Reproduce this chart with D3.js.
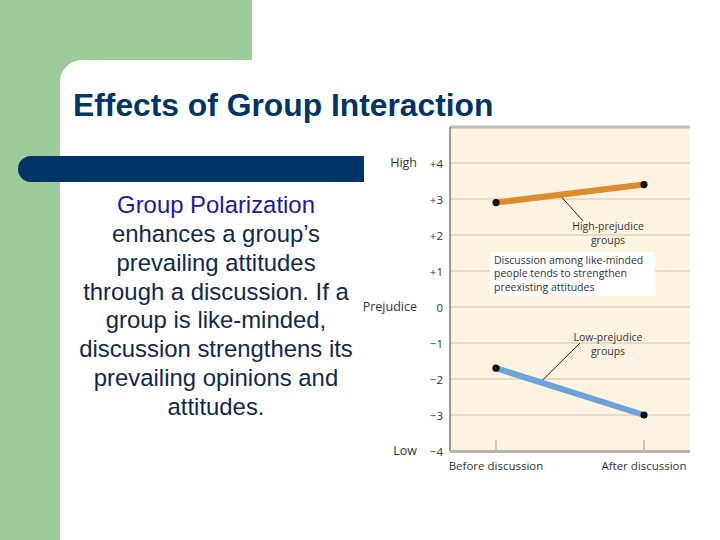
<!DOCTYPE html>
<html><head><meta charset="utf-8">
<script src="https://cdn.jsdelivr.net/npm/d3@7"></script>
<style>body{margin:0;background:#fff}svg{display:block}</style>
</head><body>
<script>
const categories = ["Before discussion", "After discussion"];
const highPrejudice = [2.9, 3.4];
const lowPrejudice = [-1.7, -3.0];
const yTicks = [4, 3, 2, 1, 0, -1, -2, -3, -4];
const yTickLabels = ["+4", "+3", "+2", "+1", "0", "\u22121", "\u22122", "\u22123", "\u22124"];
const bodyLines = ["enhances a group\u2019s", "prevailing attitudes", "through a discussion. If a", "group is like-minded,", "discussion strengthens its", "prevailing opinions and", "attitudes."];
const boxLines = ["Discussion among like-minded", "people tends to strengthen", "preexisting attitudes"];

const W = 720, H = 540;
const svg = d3.select("body").append("svg").attr("width", W).attr("height", H);

// Slide background
const green = "#9DCB9B", navy = "#003466";
svg.append("rect").attr("x", 0).attr("y", 0).attr("width", 252).attr("height", 60).attr("fill", green);
svg.append("rect").attr("x", 0).attr("y", 0).attr("width", 60).attr("height", H).attr("fill", green);
svg.append("path").attr("d", "M60,60 L82,60 A22,22 0 0 0 60,82 Z").attr("fill", green);

svg.append("text").attr("x", 73).attr("y", 116).attr("font-family", "Liberation Sans, Arial, sans-serif")
  .attr("font-weight", "bold").attr("font-size", 31.8).attr("fill", navy).text("Effects of Group Interaction");

svg.append("path").attr("d", "M31,156 L364,156 L364,182 L31,182 A13,13 0 0 1 31,156 Z").attr("fill", navy);

// Body text
const bt = svg.append("g").attr("font-family", "Liberation Sans, Arial, sans-serif").attr("font-size", 23.9).attr("text-anchor", "middle");
bt.append("text").attr("x", 216).attr("y", 213).attr("fill", "#1A1A9E").text("Group Polarization");
bodyLines.forEach((l, i) => bt.append("text").attr("x", 216).attr("y", 242 + i * 28.8).attr("fill", "#10294A").text(l));

// Chart
const x0 = 450, x1 = 690, yTop = 127, yBot = 451;
const x = d3.scalePoint().domain(categories).range([496, 644]);
const y = d3.scaleLinear().domain([-4, 4]).range([451, 163]);
const font = "Open Sans, Noto Sans, sans-serif";

svg.append("rect").attr("x", 364).attr("y", 125).attr("width", 356).attr("height", 355).attr("fill", "#fff");
svg.append("rect").attr("x", x0).attr("y", yTop).attr("width", x1 - x0).attr("height", yBot - yTop).attr("fill", "#FDF3E1");

svg.append("g").selectAll("line").data(yTicks.filter(d => d > -4)).join("line")
  .attr("x1", x0).attr("x2", x1).attr("y1", d => y(d)).attr("y2", d => y(d))
  .attr("stroke", "#CFC3AE").attr("stroke-width", 1.2);

svg.append("rect").attr("x", x0).attr("y", 125.5).attr("width", x1 - x0).attr("height", 3).attr("fill", "#BDBDBD");
svg.append("line").attr("x1", x0).attr("x2", x0).attr("y1", yTop).attr("y2", yBot).attr("stroke", "#3a3a3a").attr("stroke-width", 1);
svg.append("rect").attr("x", x0).attr("y", yBot - 1).attr("width", x1 - x0).attr("height", 3).attr("fill", "#B5B5B5");
svg.append("g").selectAll("line").data(categories).join("line")
  .attr("x1", d => x(d)).attr("x2", d => x(d)).attr("y1", 440).attr("y2", 450)
  .attr("stroke", "#AAAAAA").attr("stroke-width", 1.2);

const yAxis = d3.axisLeft(y).tickValues(yTicks).tickFormat((d, i) => yTickLabels[i]).tickSize(0).tickPadding(0);
const ya = svg.append("g").attr("transform", "translate(443,0)").call(yAxis);
ya.select(".domain").remove();
ya.selectAll("text").attr("font-family", font).attr("font-size", 11.5).attr("fill", "#333").attr("dy", "0.35em");

svg.append("g").selectAll("text").data(categories).join("text")
  .attr("x", d => x(d)).attr("y", 470).attr("text-anchor", "middle")
  .attr("font-family", font).attr("font-size", 11.5).attr("fill", "#333").text(d => d);

const side = [["High", 4], ["Prejudice", 0], ["Low", -4]];
svg.append("g").selectAll("text").data(side).join("text")
  .attr("x", 417).attr("y", d => y(d[1])).attr("dy", "0.35em").attr("text-anchor", "end")
  .attr("font-family", font).attr("font-size", 12.5).attr("fill", "#333").text(d => d[0]);

const ptOn = (vals, t) => [x(categories[0]) + (x(categories[1]) - x(categories[0])) * t, y(vals[0] + (vals[1] - vals[0]) * t)];
const hp = ptOn(highPrejudice, 0.43);
svg.append("line").attr("x1", hp[0]).attr("y1", hp[1]).attr("x2", 583).attr("y2", 221).attr("stroke", "#222").attr("stroke-width", 1);
const lp = ptOn(lowPrejudice, 0.3);
svg.append("line").attr("x1", lp[0]).attr("y1", lp[1]).attr("x2", 580).attr("y2", 343).attr("stroke", "#222").attr("stroke-width", 1);

const line = d3.line().x((d, i) => x(categories[i])).y(d => y(d));
svg.append("path").datum(highPrejudice).attr("d", line).attr("stroke", "#DB8C2C").attr("stroke-width", 6).attr("fill", "none");
svg.append("path").datum(lowPrejudice).attr("d", line).attr("stroke", "#6CA1D9").attr("stroke-width", 6).attr("fill", "none");
[highPrejudice, lowPrejudice].forEach(vals => {
  svg.append("g").selectAll("circle").data(vals).join("circle")
    .attr("cx", (d, i) => x(categories[i])).attr("cy", d => y(d)).attr("r", 3.6).attr("fill", "#111");
});

const ann = svg.append("g").attr("font-family", font).attr("font-size", 10.5).attr("fill", "#333").attr("text-anchor", "middle");
ann.append("text").attr("x", 608).attr("y", 230).text("High-prejudice");
ann.append("text").attr("x", 608).attr("y", 244).text("groups");
ann.append("text").attr("x", 608).attr("y", 341).text("Low-prejudice");
ann.append("text").attr("x", 608).attr("y", 355).text("groups");

svg.append("rect").attr("x", 490).attr("y", 252).attr("width", 165).attr("height", 44).attr("fill", "#fff");
svg.append("g").selectAll("text").data(boxLines).join("text")
  .attr("x", 494).attr("y", (d, i) => 263.5 + i * 13.7).attr("font-family", font).attr("font-size", 10.5)
  .attr("fill", "#333").text(d => d);
</script>
</body></html>
